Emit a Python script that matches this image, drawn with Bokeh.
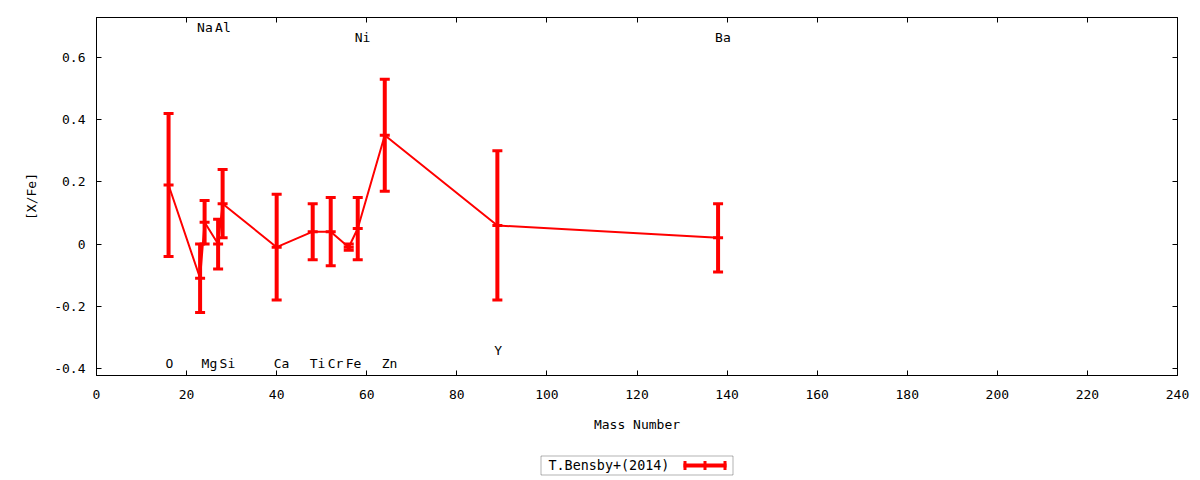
from bokeh.plotting import figure
from bokeh.layouts import column
from bokeh.models import (Range1d, LinearAxis, FixedTicker, CustomJSTickFormatter,
                          Label, BoxAnnotation, ColumnDataSource)
from bokeh.core.properties import value
from bokeh.embed import file_html
from bokeh.resources import INLINE

# ---- data ----
elements = ["O", "Na", "Mg", "Al", "Si", "Ca", "Ti", "Cr", "Fe", "Ni", "Zn", "Y", "Ba"]
mass = [16, 23, 24, 27, 28, 40, 48, 52, 56, 58, 64, 89, 138]
xfe = [0.19, -0.11, 0.07, 0.00, 0.13, -0.01, 0.04, 0.04, -0.01, 0.05, 0.35, 0.06, 0.02]
err = [0.23, 0.11, 0.07, 0.08, 0.11, 0.17, 0.09, 0.11, 0.01, 0.10, 0.18, 0.24, 0.11]
label_y = [-0.385, 0.697, -0.385, 0.697, -0.385, -0.385, -0.385, -0.385, -0.385,
           0.664, -0.385, -0.343, 0.664]
x_ticks = [0, 20, 40, 60, 80, 100, 120, 140, 160, 180, 200, 220, 240]
y_ticks = [-0.4, -0.2, 0.0, 0.2, 0.4, 0.6]
series_name = "T.Bensby+(2014)"

FONT = "DejaVu Sans Mono"
RED = "#ff0000"

lo = [v - e for v, e in zip(xfe, err)]
hi = [v + e for v, e in zip(xfe, err)]
src = ColumnDataSource(dict(x=mass, y=xfe, lo=lo, hi=hi))
lab = ColumnDataSource(dict(x=mass, y=label_y, t=elements))

p = figure(width=1200, height=440, output_backend="svg", toolbar_location=None,
           x_range=Range1d(0, 240), y_range=Range1d(-0.4225, 0.7285),
           min_border_left=96, min_border_right=23, min_border_top=17,
           min_border_bottom=65)
p.xgrid.visible = False
p.ygrid.visible = False
p.outline_line_color = "black"
p.outline_line_width = 1
p.background_fill_color = "white"
p.border_fill_color = "white"

fmt = CustomJSTickFormatter(code="return Math.abs(tick) < 1e-9 ? '0' : (Math.abs(tick - Math.round(tick)) < 1e-9 ? String(Math.round(tick)) : tick.toFixed(1));")

def style_axis(ax, show_labels=True):
    ax.major_tick_in = 5
    ax.major_tick_out = 0
    ax.minor_tick_line_color = None
    ax.axis_line_color = "black"
    ax.major_tick_line_color = "black"
    ax.major_label_text_font = FONT
    ax.major_label_text_font_size = "13px"
    ax.major_label_text_color = "black" if show_labels else None
    ax.axis_label_text_font = FONT
    ax.axis_label_text_font_size = "13px"
    ax.axis_label_text_font_style = "normal"
    ax.axis_label_text_color = "black"

xa = p.xaxis[0]
xa.ticker = FixedTicker(ticks=x_ticks)
xa.formatter = fmt
xa.axis_label = "Mass Number"
style_axis(xa)
xa.major_label_standoff = 14
xa.axis_label_standoff = 15

ya = p.yaxis[0]
ya.ticker = FixedTicker(ticks=y_ticks)
ya.formatter = fmt
ya.axis_label = "[X/Fe]"
style_axis(ya)
ya.major_label_standoff = 11
ya.axis_label_standoff = 12

top = LinearAxis(ticker=FixedTicker(ticks=x_ticks), major_label_standoff=0,
                 formatter=CustomJSTickFormatter(code="return '';"))
style_axis(top, False)
p.add_layout(top, "above")
right = LinearAxis(ticker=FixedTicker(ticks=y_ticks), major_label_standoff=0,
                   formatter=CustomJSTickFormatter(code="return '';"))
style_axis(right, False)
p.add_layout(right, "right")

# connecting line
p.line("x", "y", source=src, line_color=RED, line_width=2)
# error bars
p.segment(x0="x", y0="lo", x1="x", y1="hi", source=src, line_color=RED, line_width=4)
for col in ("lo", "hi", "y"):
    p.scatter(x="x", y=col, source=src, marker="dash", size=10, line_color=RED,
              line_width=3)

# element labels
p.text(x="x", y="y", text="t", source=lab, x_offset=-3, text_align="left",
       text_baseline="middle", text_font=value(FONT), text_font_size="13px",
       text_color="black")

# ---- legend strip (a second figure; its frame is aligned with the main frame) ----
leg = figure(width=1200, height=40, output_backend="svg", toolbar_location=None,
             x_axis_type=None, y_axis_type=None, min_border=0,
             x_range=Range1d(0, 1), y_range=Range1d(0, 1))
leg.xgrid.visible = False
leg.ygrid.visible = False
leg.outline_line_color = None
leg.background_fill_color = "white"
leg.border_fill_color = "white"

def sbox(l, r, t, b, **kw):
    return BoxAnnotation(left=l, right=r, top=t, bottom=b,
                         left_units="screen", right_units="screen",
                         top_units="screen", bottom_units="screen", **kw)

DX = 96
leg.add_layout(sbox(540.5 - DX, 732.5 - DX, 24.5, 5.5, fill_color=None, fill_alpha=0,
                    line_color="black", line_width=1))
leg.add_layout(Label(x=548 - DX, y=15, x_units="screen", y_units="screen",
                     text=series_name, text_font=FONT, text_font_size="13.4px",
                     text_baseline="middle", text_align="left", text_color="black"))
leg.add_layout(sbox(683 - DX, 726 - DX, 17, 13, fill_color=RED, fill_alpha=1,
                    line_color=None))
for cx in (684.5, 704.5, 724.5):
    leg.add_layout(sbox(cx - 1.5 - DX, cx + 1.5 - DX, 19.5, 10.5, fill_color=RED,
                        fill_alpha=1, line_color=None))

layout = column(p, leg, spacing=0)
open("out.html", "w").write(file_html(layout, INLINE))
